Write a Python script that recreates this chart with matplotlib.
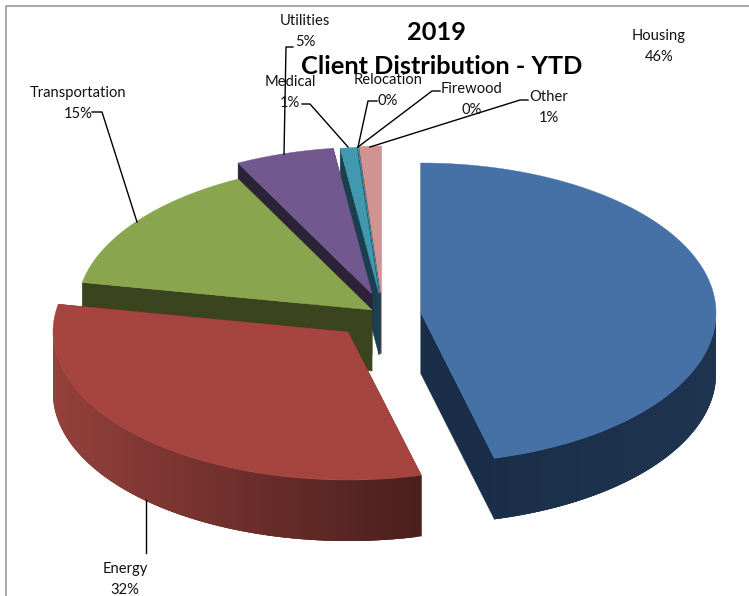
import numpy as np
import matplotlib.pyplot as plt
from matplotlib.collections import PolyCollection
from matplotlib.colors import to_rgb

plt.rcParams['font.family'] = ['Lato', 'DejaVu Sans']

categories = ['Housing', 'Energy', 'Transportation', 'Utilities', 'Medical', 'Relocation', 'Firewood', 'Other']
values = [46.0, 32.0, 14.5, 5.4, 0.9, 0.01, 0.02, 1.17]
pct_labels = ['46%', '32%', '15%', '5%', '1%', '0%', '0%', '1%']

# the picture is laid out in pixels, y going down
centers = [(421, 313), (348, 332), (372, 310), (372, 294), (379, 294), (380, 293), (380, 293), (381, 293)]
radii_y = [150, 148, 147, 147, 147, 147, 147, 147]
RX = 295
DEPTH = 61

top_colors = ['#4571A6', '#A64540', '#89A64E', '#71588F', '#4198AF', '#4198AF', '#DB843D', '#D19392']
# wall colour at the left and right of the visible side
side_colors = [('#1A2E49', '#1E344F'), ('#95403C', '#4A1F1C'), ('#3A441E', '#3A441E'), ('#2D2339', '#2D2339'),
               ('#1A4050', '#1A4050'), ('#1A4050', '#1A4050'), ('#1A4050', '#1A4050'), ('#6E4746', '#6E4746')]
cut_colors = ['#1A2E49', '#5A2522', '#3A441E', '#2D2339', '#1A4050', '#1A4050', '#1A4050', '#6E4746']

label_xy = [(659, 46.5), (125, 579.5), (78, 103.5), (305, 31.5), (290, 92.5), (388, 90.5), (472, 99.5), (549, 107.5)]
leaders = [
    None,
    [(146, 500), (146, 553)],
    [(92, 112), (102, 112), (137, 222)],
    [(284, 154), (286, 47), (293, 47)],
    [(302, 104), (310, 104), (348, 147)],
    [(377, 101), (368, 101), (358, 147)],
    [(440, 91), (432, 91), (358, 147)],
    [(528, 100), (520, 100), (370, 147)],
]


def rim(center, ry, a0, a1, n=120):
    # angles clockwise from 12 o'clock
    t = np.radians(np.linspace(a0, a1, n))
    return center[0] + RX * np.sin(t), center[1] - ry * np.cos(t), np.degrees(t)


fig = plt.figure(figsize=(7.49, 5.96), dpi=100, facecolor='w')
ax = fig.add_axes([0, 0, 1, 1])
ax.set_xlim(0, 749)
ax.set_ylim(596, 0)
ax.axis('off')

edges = np.cumsum([0] + values) / sum(values) * 360

# back slices first, Housing last
for i in range(len(values) - 1, -1, -1):
    a0, a1 = edges[i], edges[i + 1]
    c = centers[i]
    x, y, ang = rim(c, radii_y[i], a0, a1)

    # radial cut faces
    for px, py in [(x[0], y[0]), (x[-1], y[-1])]:
        ax.fill([c[0], px, px, c[0]], [c[1], py, py + DEPTH, c[1] + DEPTH],
                color=cut_colors[i], lw=0.3)

    # outer wall, only the part turned to the viewer
    # each strip runs on under the next one so no seams show
    left, right = [np.array(to_rgb(s)) for s in side_colors[i]]
    for k in range(len(x) - 1):
        if 90 <= ang[k] <= 270:
            k2 = min(k + 3, len(x) - 1)
            xs = np.r_[x[k:k2 + 1], x[k:k2 + 1][::-1]]
            ys = np.r_[y[k:k2 + 1], y[k:k2 + 1][::-1] + DEPTH]
            f = (x[k] - 53) / (421 - 53) if i == 1 else (x[k] - 491) / (716 - 491)
            f = min(max(f, 0), 1)
            ax.add_collection(PolyCollection([np.column_stack([xs, ys])],
                                             facecolors=[left + (right - left) * f], linewidths=0))

    ax.fill(np.r_[c[0], x], np.r_[c[1], y], color=top_colors[i], lw=0.3)

for leader in leaders:
    if leader is not None:
        ax.plot(*zip(*leader), color='k', lw=1)

for name, pct, (lx, ly) in zip(categories, pct_labels, label_xy):
    ax.text(lx, ly, name + '\n' + pct, ha='center', va='center', fontsize=10.6, color='#111111', linespacing=1.6)

ax.text(436, 33, '2019', ha='center', va='center', fontsize=18.3, fontweight='bold', color='k')
ax.text(442, 67, 'Client Distribution - YTD', ha='center', va='center', fontsize=18.3, fontweight='bold', color='k')

# chart frame, cut off on the other sides
ax.plot([6, 6, 749], [596, 6, 6], color='#999999', lw=1.2)

fig.savefig('out.png', dpi=100)
